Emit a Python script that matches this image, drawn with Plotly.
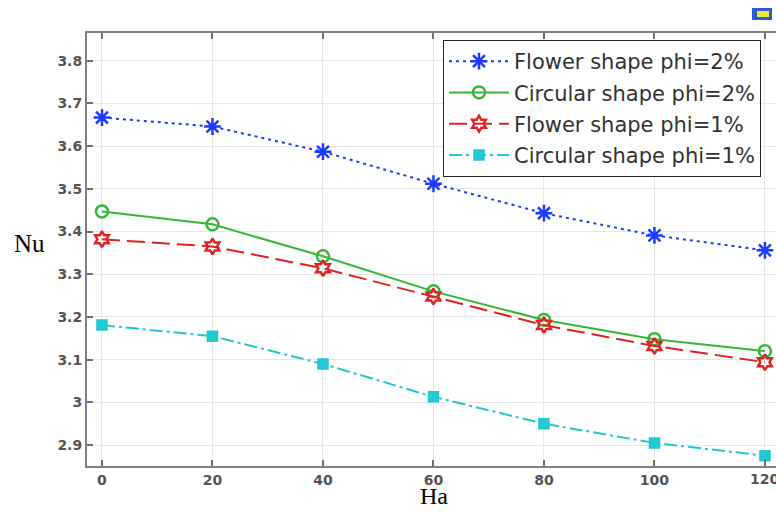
import plotly.graph_objects as go

ha = [0, 20, 40, 60, 80, 100, 120]
flower_2 = [3.667, 3.646, 3.587, 3.512, 3.443, 3.391, 3.356]
circular_2 = [3.447, 3.417, 3.342, 3.260, 3.193, 3.148, 3.120]
flower_1 = [3.382, 3.365, 3.314, 3.248, 3.181, 3.132, 3.094]
circular_1 = [3.181, 3.155, 3.090, 3.013, 2.950, 2.905, 2.875]

y_ticks = [2.9, 3.0, 3.1, 3.2, 3.3, 3.4, 3.5, 3.6, 3.7, 3.8]
y_tick_text = ["2.9", "3", "3.1", "3.2", "3.3", "3.4", "3.5", "3.6", "3.7", "3.8"]
x_ticks = [0, 20, 40, 60, 80, 100, 120]

series = [
    ("Flower shape phi=2%", flower_2, "#1f3bff", "3px,4px", "asterisk-open", 14),
    ("Circular shape phi=2%", circular_2, "#38b838", "solid", "circle-open", 12),
    ("Flower shape phi=1%", flower_1, "#e02424", "18px,7px", "hexagram-open", 12),
    ("Circular shape phi=1%", circular_1, "#22c8d2", "13px,4px,3px,4px", "square", 9),
]

fig = go.Figure()
for i, (name, vals, color, dash, sym, size) in enumerate(series):
    fig.add_trace(go.Scatter(
        x=ha, y=vals, name=name, mode="lines+markers",
        legendgroup=f"g{i}",
        line=dict(color=color, width=2, dash=dash),
        marker=dict(symbol=sym, size=size, color=color,
                    line=dict(color=color, width=2.5)),
    ))

tick_font = dict(family="DejaVu Sans", size=14, color="#555555", weight="bold")
axis_common = dict(
    showline=True, linecolor="#808080", linewidth=2,
    ticks="inside", ticklen=6, tickwidth=1.5, tickcolor="#707070",
    showgrid=True, gridcolor="#e6e6e6", gridwidth=1,
    zeroline=False,
    tickfont=tick_font,
)

fig.update_xaxes(range=[-2.71, 122], tickvals=x_ticks, mirror="ticks", **axis_common)
fig.update_yaxes(range=[2.851, 3.865], tickvals=y_ticks, ticktext=y_tick_text, **axis_common)

pl, pt, pw, ph = 87, 33, 689, 433

def px(xp):
    return (xp - pl) / pw

def py(yp):
    return (pt + ph - yp) / ph

fig.update_layout(
    width=776, height=512,
    margin=dict(l=pl, r=776 - pl - pw, t=pt, b=512 - pt - ph),
    paper_bgcolor="white", plot_bgcolor="white",
    showlegend=True,
    legend=dict(
        x=px(443), y=py(40), xanchor="left", yanchor="top",
        bgcolor="white", bordercolor="#222222", borderwidth=1,
        font=dict(family="DejaVu Sans", size=21, color="#333333"),
        traceorder="grouped", tracegroupgap=1, itemwidth=60,
    ),
    annotations=[
        dict(text="Nu", x=px(29), y=py(243), xref="paper", yref="paper", showarrow=False,
             xanchor="center", yanchor="middle",
             font=dict(family="Liberation Serif", size=25, color="black")),
        dict(text="Ha", x=px(434), y=py(496), xref="paper", yref="paper", showarrow=False,
             xanchor="center", yanchor="middle",
             font=dict(family="Liberation Serif", size=24, color="black")),
        # last x tick label, which the reference shows cut by the right edge
        dict(text=str(x_ticks[-1]), x=x_ticks[-1], y=py(479), xref="x", yref="paper",
             showarrow=False, xanchor="center", yanchor="middle", font=tick_font),
    ],
    shapes=[
        dict(type="rect", xref="paper", yref="paper",
             x0=px(752), x1=px(772), y0=py(20), y1=py(8),
             fillcolor="#2b5fd0", line=dict(width=0)),
        dict(type="rect", xref="paper", yref="paper",
             x0=px(757), x1=px(769), y0=py(17), y1=py(11),
             fillcolor="#f2e23a", line=dict(width=0)),
    ],
)

fig.write_html("out.html")
